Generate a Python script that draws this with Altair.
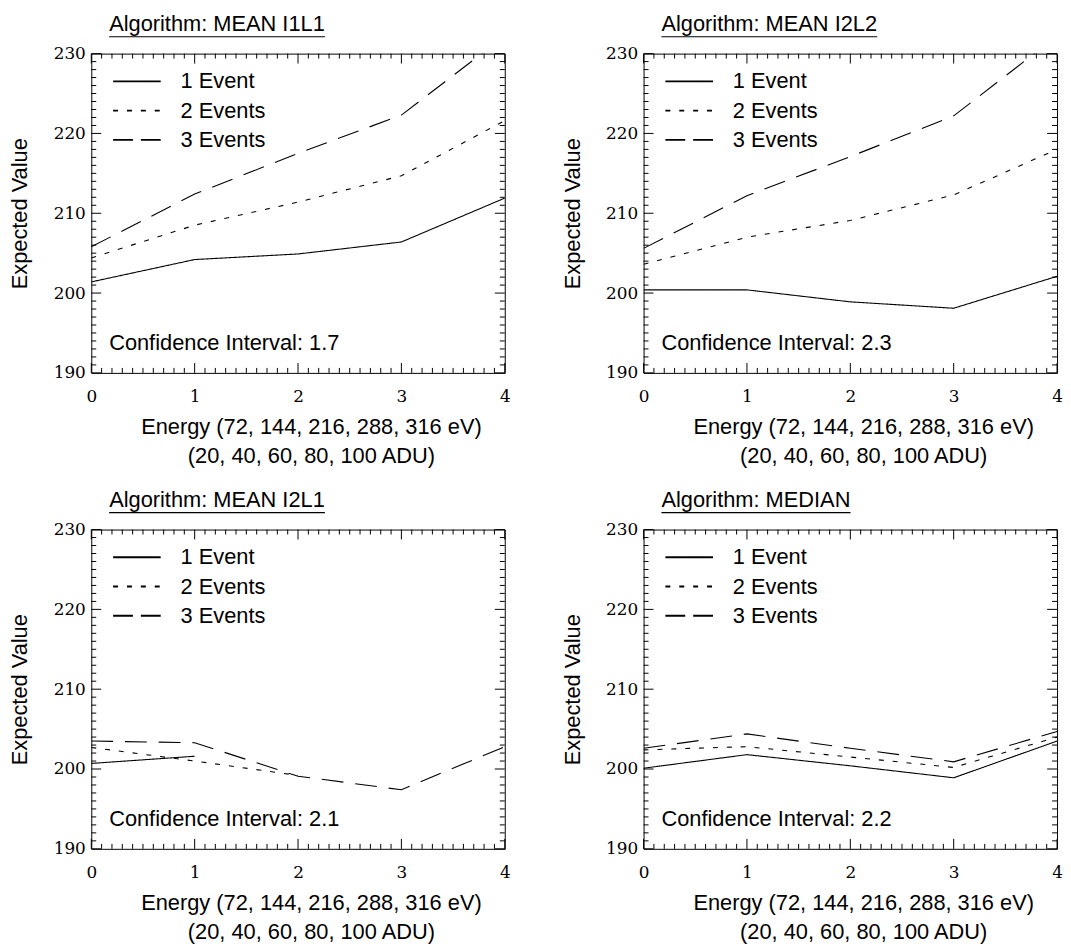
import altair as alt
import pandas as pd

# ---------------- data ----------------
energy_idx = [0, 1, 2, 3, 4]
series_names = ["1 Event", "2 Events", "3 Events"]

panel_titles = ["Algorithm: MEAN I1L1", "Algorithm: MEAN I2L2",
                "Algorithm: MEAN I2L1", "Algorithm: MEDIAN"]
conf_texts = ["Confidence Interval: 1.7", "Confidence Interval: 2.3",
              "Confidence Interval: 2.1", "Confidence Interval: 2.2"]

i1l1_one = [201.4, 204.2, 204.9, 206.4, 211.9]
i1l1_two = [204.4, 208.5, 211.4, 214.7, 221.6]
i1l1_three = [205.8, 212.4, 217.5, 222.3, 232.2]

i2l2_one = [200.4, 200.4, 198.9, 198.1, 202.1]
i2l2_two = [203.6, 207.0, 209.1, 212.3, 218.0]
i2l2_three = [205.6, 212.2, 217.1, 222.2, 232.2]

i2l1_one = [200.7, 201.6, None, None, None]
i2l1_two = [202.7, 201.0, 199.2, None, None]
i2l1_three = [203.5, 203.3, 199.1, 197.4, 202.8]

median_one = [200.1, 201.8, 200.4, 198.9, 203.5]
median_two = [202.4, 202.8, 201.5, 200.2, 204.0]
median_three = [202.6, 204.4, 202.6, 200.9, 204.7]

x_tick_labels = [0, 1, 2, 3, 4]
y_tick_labels = [190, 200, 210, 220, 230]
x_minor = [i / 10 for i in range(41) if i % 10]
y_minor = [v for v in range(190, 231) if v % 10]

x_title = ["Energy (72, 144, 216, 288, 316 eV)", "(20, 40, 60, 80, 100 ADU)"]
y_title = "Expected Value"

# ---------------- style ----------------
W, H = 417, 322
SANS = "Liberation Sans"
SERIF = "DejaVu Serif"
FS = 22
dash_range = [[1, 0], [5, 9], [22, 12]]
legend_dash = [[1, 0], [5, 9], [20, 8]]

ARIAL = {"A": 667, "l": 222, "g": 556, "o": 556, "r": 333, "i": 222, "t": 278,
         "h": 556, "m": 833, ":": 278, " ": 278, "M": 833, "E": 667, "N": 722,
         "I": 278, "1": 556, "2": 556, "L": 556, "D": 722}


def text_width(s, size):
    return sum(ARIAL.get(c, 556) for c in s) * size / 1000.0


xscale = alt.Scale(domain=[0, 4], nice=False, zero=False)
yscale = alt.Scale(domain=[190, 230], nice=False, zero=False)

x_axis = alt.Axis(values=x_tick_labels, ticks=False, domain=False, grid=False,
                  labelFont=SERIF, labelFontSize=17, labelColor="black",
                  labelBaseline="middle", labelPadding=24, labelFlush=False,
                  title=x_title, titleFont=SANS, titleFontSize=FS,
                  titleFontWeight="normal", titleColor="black",
                  titleX=W / 2 + 13, titleY=61, titleBaseline="alphabetic",
                  titleLineHeight=29)
y_axis = alt.Axis(values=y_tick_labels, ticks=False, domain=False, grid=False,
                  labelFont=SERIF, labelFontSize=17, labelColor="black",
                  labelPadding=6, labelFlush=False,
                  title=y_title, titleFont=SANS, titleFontSize=FS,
                  titleFontWeight="normal", titleColor="black",
                  titleAngle=270, titleX=-65, titleY=H / 2,
                  titleBaseline="alphabetic", titleAlign="center")


def one_row(**kw):
    return pd.DataFrame({k: [v] for k, v in kw.items()})


def panel(title, conf, one, two, three):
    rows = []
    for name, vals in zip(series_names, [one, two, three]):
        for x, v in zip(energy_idx, vals):
            if v is not None:
                rows.append({"x": x, "v": v, "series": name})
    df = pd.DataFrame(rows)

    lines = alt.Chart(df).mark_line(clip=True, color="black", strokeWidth=1.1).encode(
        x=alt.X("x:Q", scale=xscale, axis=x_axis),
        y=alt.Y("v:Q", scale=yscale, axis=y_axis),
        strokeDash=alt.StrokeDash("series:N",
                                  scale=alt.Scale(domain=series_names, range=dash_range),
                                  legend=None),
        detail="series:N",
    )

    layers = [lines]

    # inward ticks on all four sides
    for vals, ln in [(x_tick_labels, 10), (x_minor, 5)]:
        d = pd.DataFrame({"x": vals})
        layers.append(alt.Chart(d).mark_rule(color="black", strokeWidth=1).encode(
            x=alt.X("x:Q", scale=xscale, axis=x_axis), y=alt.value(H), y2=alt.value(H - ln)))
        layers.append(alt.Chart(d).mark_rule(color="black", strokeWidth=1).encode(
            x=alt.X("x:Q", scale=xscale, axis=x_axis), y=alt.value(0), y2=alt.value(ln)))
    for vals, ln in [(y_tick_labels, 10), (y_minor, 5)]:
        d = pd.DataFrame({"v": vals})
        layers.append(alt.Chart(d).mark_rule(color="black", strokeWidth=1).encode(
            y=alt.Y("v:Q", scale=yscale, axis=y_axis), x=alt.value(0), x2=alt.value(ln)))
        layers.append(alt.Chart(d).mark_rule(color="black", strokeWidth=1).encode(
            y=alt.Y("v:Q", scale=yscale, axis=y_axis), x=alt.value(W), x2=alt.value(W - ln)))

    # legend drawn inside the plot
    for i, name in enumerate(series_names):
        yy = 28 + 29.5 * i
        d = one_row(label=name)
        layers.append(alt.Chart(d).mark_rule(color="black", strokeWidth=2,
                                             strokeDash=legend_dash[i]).encode(
            x=alt.value(22), x2=alt.value(70), y=alt.value(yy)))
        layers.append(alt.Chart(d).mark_text(align="left", baseline="middle", font=SANS,
                                             fontSize=FS, color="black").encode(
            x=alt.value(90), y=alt.value(yy), text="label:N"))

    # confidence interval text
    layers.append(alt.Chart(one_row(label=conf)).mark_text(
        align="left", baseline="alphabetic", font=SANS, fontSize=FS, color="black").encode(
        x=alt.value(18), y=alt.value(H - 23), text="label:N"))

    # underlined title
    layers.append(alt.Chart(one_row(label=title)).mark_text(
        align="left", baseline="alphabetic", font=SANS, fontSize=FS, color="black").encode(
        x=alt.value(18), y=alt.value(-23), text="label:N"))
    layers.append(alt.Chart(one_row(label=title)).mark_rule(color="black", strokeWidth=1.2).encode(
        x=alt.value(18), x2=alt.value(18 + text_width(title, FS)), y=alt.value(-17)))

    return alt.layer(*layers).properties(width=W, height=H)


p1 = panel(panel_titles[0], conf_texts[0], i1l1_one, i1l1_two, i1l1_three)
p2 = panel(panel_titles[1], conf_texts[1], i2l2_one, i2l2_two, i2l2_three)
p3 = panel(panel_titles[2], conf_texts[2], i2l1_one, i2l1_two, i2l1_three)
p4 = panel(panel_titles[3], conf_texts[3], median_one, median_two, median_three)

chart = alt.vconcat(
    alt.hconcat(p1, p2, spacing=140, bounds="flush"),
    alt.hconcat(p3, p4, spacing=140, bounds="flush"),
    spacing=21,
).properties(
    padding={"left": 0, "top": 0, "right": 0, "bottom": 0},
    background="white",
).configure_view(stroke="black", strokeWidth=1)

chart.save("out.html", embed_options={"renderer": "svg", "actions": False})
